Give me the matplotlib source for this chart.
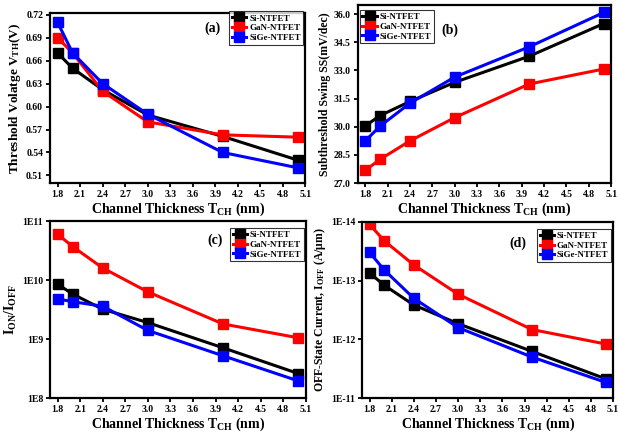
"""Four-panel NTFET comparison: VTH, SS, ION/IOFF and IOFF vs channel thickness."""
import matplotlib
matplotlib.use("Agg")
import matplotlib.pyplot as plt
from matplotlib.ticker import FixedLocator, FixedFormatter

plt.rcParams["font.family"] = "Liberation Serif"
plt.rcParams["font.weight"] = "bold"
plt.rcParams["mathtext.fontset"] = "custom"
plt.rcParams["mathtext.bf"] = "Liberation Serif:bold"
plt.rcParams["mathtext.rm"] = "Liberation Serif:bold"
plt.rcParams["mathtext.it"] = "Liberation Serif:bold:italic"
plt.rcParams["mathtext.default"] = "bf"

# channel thickness (nm)
t_ch = [1.8, 2.0, 2.4, 3.0, 4.0, 5.0]
devices = ["Si-NTFET", "GaN-NTFET", "SiGe-NTFET"]
colors = ["black", "red", "blue"]

# (a) threshold voltage (V)
vth_si = [0.670, 0.650, 0.622, 0.589, 0.561, 0.530]
vth_gan = [0.690, 0.670, 0.620, 0.580, 0.563, 0.560]
vth_sige = [0.710, 0.670, 0.630, 0.590, 0.540, 0.520]

# (b) subthreshold swing (mV/dec)
ss_si = [30.05, 30.6, 31.35, 32.37, 33.76, 35.5]
ss_gan = [27.68, 28.27, 29.25, 30.49, 32.28, 33.08]
ss_sige = [29.25, 30.04, 31.26, 32.65, 34.26, 36.09]

# (c) ION/IOFF
ratio_si = [8.5e9, 5.8e9, 3.2e9, 1.9e9, 7.1e8, 2.6e8]
ratio_gan = [6.0e10, 3.7e10, 1.6e10, 6.3e9, 1.8e9, 1.05e9]
ratio_sige = [4.8e9, 4.3e9, 3.6e9, 1.4e9, 5.2e8, 1.95e8]

# (d) OFF-state current (A/um), axis drawn as in the source (1E-11 at bottom)
ioff_si = [7.4e-14, 1.2e-13, 2.6e-13, 5.4e-13, 1.6e-12, 4.7e-12]
ioff_gan = [1.1e-14, 2.1e-14, 5.4e-14, 1.7e-13, 6.8e-13, 1.2e-12]
ioff_sige = [3.3e-14, 6.6e-14, 2.0e-13, 6.3e-13, 2.0e-12, 5.4e-12]

x_ticks = [1.8, 2.1, 2.4, 2.7, 3.0, 3.3, 3.6, 3.9, 4.2, 4.5, 4.8, 5.1]
x_label = "Channel Thickness T$_{CH}$ (nm)"

fig = plt.figure(figsize=(6.18, 4.36), dpi=100)
ax_a = fig.add_axes([0.081, 0.580, 0.413, 0.390])
ax_b = fig.add_axes([0.579, 0.580, 0.410, 0.409])
ax_c = fig.add_axes([0.081, 0.087, 0.414, 0.406])
ax_d = fig.add_axes([0.586, 0.087, 0.406, 0.404])


def draw(ax, series):
    for vals, c, name in zip(series, colors, devices):
        ax.plot(t_ch, vals, color=c, lw=2.2, marker="s", ms=7, label=name)
    ax.set_xlim(1.7, 5.1)
    ax.set_xticks(x_ticks)
    ax.set_xticklabels([f"{v:.1f}" for v in x_ticks])
    ax.tick_params(labelsize=7, width=1.3, length=3, pad=2)
    for s in ax.spines.values():
        s.set_linewidth(1.6)
    ax.set_xlabel(x_label, fontsize=10, fontweight="bold", labelpad=1)


def legend(ax, loc, anchor):
    leg = ax.legend(loc=loc, bbox_to_anchor=anchor, frameon=True,
                    fancybox=False, edgecolor="black", handlelength=1.6,
                    borderpad=0.3, labelspacing=0.15, handletextpad=0.3,
                    borderaxespad=0.2, prop={"weight": "bold", "size": 6.5})
    leg.get_frame().set_linewidth(0.8)


# (a)
draw(ax_a, [vth_si, vth_gan, vth_sige])
ax_a.set_ylim(0.50, 0.722)
a_ticks = [0.51, 0.54, 0.57, 0.60, 0.63, 0.66, 0.69, 0.72]
ax_a.set_yticks(a_ticks)
ax_a.set_yticklabels([f"{v:.2f}" for v in a_ticks])
ax_a.set_ylabel("Threshold Volatge V$_{TH}$(V)", fontsize=9.5, fontweight="bold", labelpad=2)
legend(ax_a, "upper right", (1.0, 1.02))
ax_a.text(0.635, 0.91, "(a)", transform=ax_a.transAxes, fontsize=10, fontweight="bold",
          ha="center", va="center")

# (b)
draw(ax_b, [ss_si, ss_gan, ss_sige])
ax_b.set_ylim(27.0, 36.5)
ax_b.set_yticks([27.0, 28.5, 30.0, 31.5, 33.0, 34.5, 36.0])
ax_b.set_yticklabels(["27.0", "28.5", "30.0", "31.5", "33.0", "34.5", "36.0"])
ax_b.set_ylabel("Subthreshold Swing SS(mV/dec)", fontsize=8.5, fontweight="bold", labelpad=2)
legend(ax_b, "upper left", (0.0, 0.98))
ax_b.text(0.365, 0.86, "(b)", transform=ax_b.transAxes, fontsize=10, fontweight="bold",
          ha="center", va="center")

# (c)
draw(ax_c, [ratio_si, ratio_gan, ratio_sige])
ax_c.set_yscale("log")
ax_c.set_ylim(1e8, 1e11)
ax_c.yaxis.set_major_locator(FixedLocator([1e8, 1e9, 1e10, 1e11]))
ax_c.yaxis.set_major_formatter(FixedFormatter(["1E8", "1E9", "1E10", "1E11"]))
ax_c.yaxis.set_minor_locator(FixedLocator([]))
ax_c.set_ylabel("I$_{ON}$/I$_{OFF}$", fontsize=10, fontweight="bold", labelpad=2)
legend(ax_c, "upper right", (1.0, 0.97))
ax_c.text(0.645, 0.89, "(c)", transform=ax_c.transAxes, fontsize=10, fontweight="bold",
          ha="center", va="center")

# (d)
draw(ax_d, [ioff_si, ioff_gan, ioff_sige])
ax_d.set_yscale("log")
ax_d.set_ylim(1e-11, 1e-14)
ax_d.yaxis.set_major_locator(FixedLocator([1e-11, 1e-12, 1e-13, 1e-14]))
ax_d.yaxis.set_major_formatter(FixedFormatter(["1E-11", "1E-12", "1E-13", "1E-14"]))
ax_d.yaxis.set_minor_locator(FixedLocator([]))
ax_d.set_ylabel("OFF-State Current, I$_{OFF}$ (A/μm)", fontsize=8.5, fontweight="bold", labelpad=2)
legend(ax_d, "upper right", (1.0, 0.97))
ax_d.text(0.62, 0.88, "(d)", transform=ax_d.transAxes, fontsize=10, fontweight="bold",
          ha="center", va="center")

fig.savefig("out.png", dpi=100)
